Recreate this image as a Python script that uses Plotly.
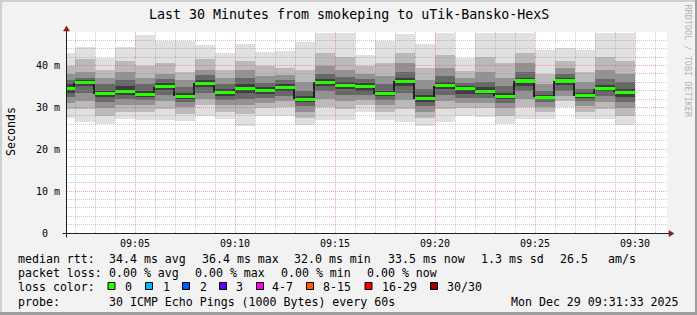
import plotly.graph_objects as go
import pandas as pd

# ---------------- data ----------------
bar_start = pd.date_range("2025-12-29 09:01:00", periods=29, freq="60s")

median = [34.4, 35.9, 33.2, 33.9, 33.0, 34.9, 32.6, 35.8, 33.6, 34.5,
          34.0, 34.8, 31.9, 36.0, 35.3, 35.0, 33.2, 36.2, 32.1, 35.2,
          34.4, 33.9, 32.6, 36.3, 32.4, 36.3, 32.8, 34.4, 33.6]

# smoke bands: low_k / high_k are the k-th outermost ping values (ms)
low_1 = [27.4, 26.6, 26.0, 27.2, 27.0, 27.0, 26.7, 28.0, 27.2, 25.6,
         28.0, 28.0, 25.7, 27.0, 27.0, 29.0, 27.0, 26.5, 25.6, 26.5,
         28.0, 27.8, 26.0, 27.3, 27.2, 30.2, 27.2, 27.3, 25.8]
low_2 = [29.5, 29.5, 28.0, 29.0, 29.0, 29.5, 28.5, 30.5, 29.0, 28.5,
         29.8, 30.0, 27.5, 30.0, 29.5, 30.5, 29.0, 29.5, 27.5, 29.5,
         29.8, 29.8, 28.0, 30.0, 29.0, 31.5, 29.0, 29.5, 28.0]
low_3 = [31.0, 31.5, 29.8, 30.5, 30.5, 31.5, 30.0, 32.0, 30.5, 30.5,
         31.0, 31.5, 29.0, 32.0, 31.5, 31.8, 30.5, 31.8, 29.0, 31.5,
         31.0, 31.0, 29.8, 32.0, 30.2, 32.8, 30.3, 31.3, 29.8]
low_4 = [32.5, 33.5, 31.2, 32.0, 31.8, 33.0, 31.2, 33.5, 31.8, 32.0,
         32.3, 32.8, 30.3, 33.8, 33.0, 33.0, 31.8, 33.5, 30.3, 33.0,
         32.2, 32.3, 31.0, 33.8, 31.3, 34.0, 31.5, 32.8, 31.2]
low_5 = [33.5, 35.0, 32.5, 33.0, 32.5, 34.2, 32.0, 34.8, 32.8, 33.5,
         33.3, 33.8, 31.2, 35.0, 34.3, 34.0, 32.6, 35.0, 31.3, 34.3,
         33.3, 33.2, 32.0, 35.2, 32.0, 35.3, 32.3, 33.8, 32.5]
high_5 = [35.5, 36.5, 34.0, 35.0, 33.8, 35.8, 33.5, 36.5, 34.5, 35.5,
          34.8, 35.5, 32.8, 36.8, 36.0, 35.8, 34.0, 37.0, 33.0, 36.0,
          35.0, 34.8, 33.5, 37.0, 33.0, 37.0, 33.5, 35.3, 34.5]
high_4 = [36.5, 37.0, 35.5, 36.5, 35.5, 36.8, 34.8, 37.8, 35.5, 37.0,
          35.8, 36.5, 34.0, 38.0, 37.2, 36.8, 35.5, 38.5, 34.5, 37.5,
          35.8, 36.0, 35.0, 38.5, 34.0, 38.0, 34.5, 36.8, 36.0]
high_3 = [38.0, 38.5, 37.0, 38.5, 37.0, 38.0, 36.5, 39.0, 37.0, 39.0,
          37.5, 37.8, 36.0, 40.0, 39.0, 38.0, 37.5, 40.5, 36.5, 39.5,
          37.0, 38.5, 37.0, 40.5, 35.5, 39.3, 36.0, 39.0, 38.0]
high_2 = [40.0, 41.5, 39.0, 41.0, 40.0, 40.5, 38.5, 41.5, 39.0, 41.0,
          40.0, 39.5, 39.0, 43.0, 42.0, 40.0, 40.5, 43.0, 39.5, 42.5,
          38.8, 42.0, 40.5, 43.0, 38.0, 41.0, 38.5, 42.0, 41.0]
high_1 = [43.0, 44.4, 41.8, 44.4, 47.2, 45.8, 45.8, 44.8, 42.9, 45.2,
          43.3, 43.4, 45.6, 47.7, 47.7, 42.5, 45.8, 47.5, 45.2, 47.7,
          41.7, 47.7, 47.7, 47.7, 43.7, 44.2, 43.7, 47.7, 47.7]

y_tickvals = [0, 10, 20, 30, 40]
y_ticktext = ["0\u00a0\u00a0", "10 m", "20 m", "30 m", "40 m"]

title_text = "Last 30 Minutes from smokeping to uTik-Bansko-HexS"
legend_rows = [
    [("median rtt:", 16), ("34.4 ms avg", 107), ("36.4 ms max", 199.5), ("32.0 ms min", 292),
     ("33.5 ms now", 386), ("1.3 ms sd", 478.5), ("26.5", 557.5), ("am/s", 606)],
    [("packet loss:", 16), ("0.00 % avg", 107), ("0.00 % max", 193), ("0.00 % min", 279),
     ("0.00 % now", 364.5)],
    [("loss color:", 16)],
    [("probe:", 16), ("30 ICMP Echo Pings (1000 Bytes) every 60s", 107)],
]
loss_labels = ["0", "1", "2", "3", "4-7", "8-15", "16-29", "30/30"]
loss_colors = ["#26ff00", "#00b8ff", "#0059ff", "#5e00ff", "#ff00ea", "#ff5e00", "#ff0000", "#a10000"]
loss_box_x = [108, 145.5, 182.5, 219.5, 256.5, 306.5, 365, 430.5]
loss_text_x = [122.5, 160.5, 197.5, 234, 270, 321, 380, 444.5]
date_text = "Mon Dec 29 09:31:33 2025"

# ---------------- layout geometry ----------------
W, H = 697, 315
ML, MR, MT, MB = 67, 30, 32, 82
PW = W - ML - MR
PH = H - MT - MB
FONT = "DejaVu Sans Mono"


def px(x):
    return (x - ML) / PW


def py(y):
    return (MT + PH - y) / PH


def ts(t):
    return t.strftime("%Y-%m-%d %H:%M:%S")


x_range = ["2025-12-29 09:01:36", "2025-12-29 09:31:36"]
y_range = [0, 48]

centers = [ts(t + pd.Timedelta(seconds=30)) for t in bar_start]
# vertical connectors of the median step line, just left of each bar boundary
conn_x = [ts(t - pd.Timedelta(seconds=1.5)) for t in bar_start[1:]]
conn_base = [min(a, b) for a, b in zip(median[:-1], median[1:])]
conn_len = [abs(a - b) for a, b in zip(median[:-1], median[1:])]

fig = go.Figure()

lows = [low_1, low_2, low_3, low_4, low_5]
highs = [high_1, high_2, high_3, high_4, high_5]
shades = [224, 186, 146, 104, 62]
for lo, hi, s in zip(lows, highs, shades):
    fig.add_trace(go.Bar(
        x=centers, base=lo, y=[h - l for h, l in zip(hi, lo)], width=60000,
        marker=dict(color=f"rgb({s},{s},{s})", line=dict(width=0)),
        hoverinfo="skip", showlegend=False))

fig.add_trace(go.Bar(x=conn_x, base=conn_base, y=conn_len, width=3000,
                     marker=dict(color="#202020", line=dict(width=0)), hoverinfo="skip", showlegend=False))
half = 0.36
fig.add_trace(go.Bar(x=centers, base=[m - half for m in median], y=[2 * half] * len(median), width=60000,
                     marker=dict(color=loss_colors[0], line=dict(width=0)), hoverinfo="skip", showlegend=False))

# empty trace to create the grid overlay subplot (rrdtool draws its grid above the data)
fig.add_trace(go.Scatter(x=[], y=[], xaxis="x2", yaxis="y2", showlegend=False))

MINOR = "rgba(143,143,143,0.5)"
MAJOR = "rgba(222,79,79,0.5)"
DASH = "1px,1px"

shapes = []
shapes.append(dict(type="rect", xref="paper", yref="paper", x0=0, x1=1, y0=0, y1=1,
                   fillcolor="white", line=dict(width=0), layer="below"))
shapes.append(dict(type="line", xref="paper", yref="paper", x0=px(0), x1=px(697), y0=py(1), y1=py(1),
                   line=dict(color="#cfcfcf", width=2), layer="above"))
shapes.append(dict(type="line", xref="paper", yref="paper", x0=px(1), x1=px(1), y0=py(0), y1=py(315),
                   line=dict(color="#cfcfcf", width=2), layer="above"))
shapes.append(dict(type="line", xref="paper", yref="paper", x0=px(0), x1=px(697), y0=py(313.5), y1=py(313.5),
                   line=dict(color="#9e9e9e", width=3), layer="above"))
shapes.append(dict(type="line", xref="paper", yref="paper", x0=px(696), x1=px(696), y0=py(0), y1=py(315),
                   line=dict(color="#9e9e9e", width=2), layer="above"))
shapes.append(dict(type="line", xref="paper", yref="paper", x0=px(62.5), x1=px(670), y0=py(233.5), y1=py(233.5),
                   line=dict(color="#1f1f1f", width=1), layer="above"))
shapes.append(dict(type="line", xref="paper", yref="paper", x0=px(66.5), x1=px(66.5), y0=py(237.5), y1=py(30),
                   line=dict(color="#1f1f1f", width=1), layer="above"))
shapes.append(dict(type="path", xref="paper", yref="paper",
                   path=f"M {px(63.5)},{py(31)} L {px(69.5)},{py(31)} L {px(66.5)},{py(26)} Z",
                   fillcolor="#7f1f1f", line=dict(color="#7f1f1f", width=0.5), layer="above"))
shapes.append(dict(type="path", xref="paper", yref="paper",
                   path=f"M {px(669)},{py(230.5)} L {px(669)},{py(236.5)} L {px(674)},{py(233.5)} Z",
                   fillcolor="#7f1f1f", line=dict(color="#7f1f1f", width=0.5), layer="above"))
for bx, c in zip(loss_box_x, loss_colors):
    shapes.append(dict(type="rect", xref="paper", yref="paper", x0=px(bx), x1=px(bx + 7),
                       y0=py(289.5), y1=py(282.5), fillcolor=c, line=dict(color="black", width=1),
                       layer="above"))

LEG = 11.6
row_y = [259.2, 273.2, 287.2, 301.5]
annotations = []
annotations.append(dict(text=title_text, x=px(348.5), y=py(14.3), xref="paper", yref="paper",
                        showarrow=False, xanchor="center", yanchor="middle",
                        font=dict(family=FONT, size=13.3, color="black")))
for row, yy in zip(legend_rows, row_y):
    for txt, xx in row:
        annotations.append(dict(text=txt, x=px(xx), y=py(yy), xref="paper", yref="paper",
                                showarrow=False, xanchor="left", yanchor="middle",
                                font=dict(family=FONT, size=LEG, color="black")))
for txt, xx in zip(loss_labels, loss_text_x):
    annotations.append(dict(text=txt, x=px(xx), y=py(row_y[2]), xref="paper", yref="paper",
                            showarrow=False, xanchor="left", yanchor="middle",
                            font=dict(family=FONT, size=LEG, color="black")))
annotations.append(dict(text=date_text, x=px(681), y=py(row_y[3]), xref="paper", yref="paper",
                        showarrow=False, xanchor="right", yanchor="middle",
                        font=dict(family=FONT, size=LEG, color="black")))
annotations.append(dict(text="Seconds", x=px(10.5), y=py(131.5), xref="paper", yref="paper",
                        showarrow=False, xanchor="center", yanchor="middle", textangle=-90,
                        font=dict(family=FONT, size=11.6, color="black")))
annotations.append(dict(text="RRDTOOL / TOBI OETIKER", x=px(687), y=py(60.5), xref="paper", yref="paper",
                        showarrow=False, xanchor="center", yanchor="middle", textangle=90,
                        font=dict(family=FONT, size=8.5, color="#b4b4b4")))

fig.update_layout(
    width=W, height=H,
    margin=dict(l=ML, r=MR, t=MT, b=MB, pad=0),
    paper_bgcolor="#f2f2f2", plot_bgcolor="rgba(0,0,0,0)",
    barmode="overlay", bargap=0,
    showlegend=False,
    xaxis=dict(type="date", range=x_range, domain=[0, 1], anchor="y",
               showgrid=False, zeroline=False, showline=False, ticks="",
               tick0="2025-12-29 09:00:00", dtick=300000, tickformat="%H:%M",
               tickfont=dict(family=FONT, size=10, color="black"), ticklabelstandoff=3),
    yaxis=dict(range=y_range, domain=[0, 1], anchor="x",
               showgrid=False, zeroline=False, showline=False, ticks="",
               tickvals=y_tickvals, ticktext=y_ticktext,
               tickfont=dict(family=FONT, size=10, color="black"), ticklabelstandoff=6),
    xaxis2=dict(type="date", range=x_range, domain=[0, 1], anchor="y2",
                showticklabels=False, ticks="", zeroline=False, showline=False,
                showgrid=True, tick0="2025-12-29 09:00:00", dtick=300000,
                gridcolor=MAJOR, gridwidth=1, griddash=DASH,
                minor=dict(dtick=60000, tick0="2025-12-29 09:00:00", showgrid=True,
                           gridcolor=MINOR, gridwidth=1, griddash=DASH, ticks="")),
    yaxis2=dict(range=y_range, domain=[0, 1], anchor="x2",
                showticklabels=False, ticks="", zeroline=False, showline=False,
                showgrid=True, tick0=0, dtick=10,
                gridcolor=MAJOR, gridwidth=1, griddash=DASH,
                minor=dict(dtick=2, tick0=0, showgrid=True,
                           gridcolor=MINOR, gridwidth=1, griddash=DASH, ticks="")),
    shapes=shapes,
    annotations=annotations,
)

fig.write_html("out.html")
